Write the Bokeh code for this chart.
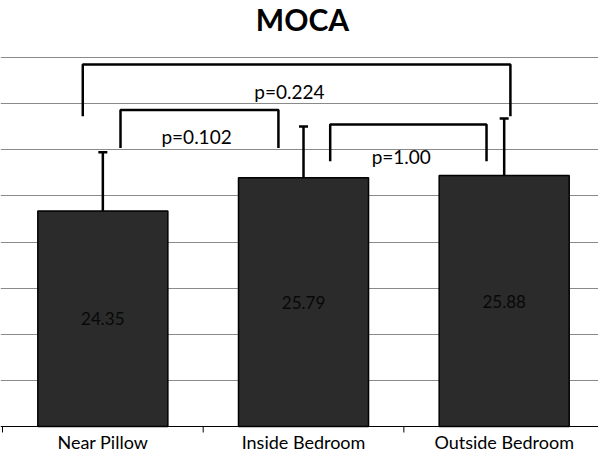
import math
from bokeh.plotting import figure
from bokeh.models import Range1d, FixedTicker, Whisker, TeeHead, ColumnDataSource, Span
from bokeh.embed import file_html
from bokeh.resources import INLINE
from bokeh.core.properties import value

# ---- data ----
title_text = "MOCA"
categories = ["Near Pillow", "Inside Bedroom", "Outside Bedroom"]
means = [24.35, 25.79, 25.88]
sds = [2.54, 2.22, 2.48]
value_labels = ["24.35", "25.79", "25.88"]
y_min, y_max, y_step = 15, 31, 2

# pairwise comparisons (brackets)
comp_labels = ["p=0.102", "p=1.00", "p=0.224"]
comp_x0 = [0.588, 1.633, 0.40]
comp_x1 = [1.375, 2.412, 2.531]
comp_top = [28.72, 28.10, 30.70]
comp_leg = [27.08, 26.50, 28.45]
comp_text_y = [27.59, 26.72, 29.54]
comp_text_x = [0.967, 1.987, 1.43]

FONT = "Lato"
n = len(categories)
xc = [i + 0.5 for i in range(n)]

# frame fills the whole figure; axis, title and labels are drawn inside it
p = figure(width=598, height=452, output_backend="svg", toolbar_location=None,
           x_range=Range1d(-0.01, 2.97), y_range=Range1d(13.873, 33.472),
           min_border=0)
p.outline_line_color = None
p.background_fill_color = "white"
p.title.visible = False
p.xaxis.visible = False
p.yaxis.visible = False

# grid
p.xgrid.visible = False
p.ygrid.ticker = FixedTicker(ticks=list(range(y_min + y_step, y_max + 1, y_step)))
p.ygrid.grid_line_color = "#8a8a8a"
p.ygrid.grid_line_width = 1

# baseline (category axis) with ticks at category boundaries
p.add_layout(Span(location=y_min, dimension="width", line_color="black", line_width=1))
p.ray(x=list(range(n + 1)), y=[y_min] * (n + 1), length=6, length_units="screen",
      angle=-math.pi / 2, line_color="black", line_width=1)

src = ColumnDataSource(dict(x=xc, top=means, upper=[m + s for m, s in zip(means, sds)],
                            lab=value_labels, laby=[(y_min + m) / 2 for m in means],
                            cat=categories, caty=[y_min - 0.68] * n))

p.vbar(x="x", top="top", bottom=y_min, width=0.648, source=src,
       fill_color="#2b2b2b", line_color="black", line_width=1.5)

w = Whisker(base="x", upper="upper", lower="top", source=src, level="overlay",
            line_color="black", line_width=2.5,
            upper_head=TeeHead(size=9, line_width=2.5, line_color="black"), lower_head=None)
p.add_layout(w)

p.text(x="x", y="laby", text="lab", source=src, text_align="center", text_baseline="middle",
       text_font=value(FONT), text_font_size="17px", text_color="#080808")

# category labels
p.text(x="x", y="caty", text="cat", source=src, text_align="center",
       text_baseline="alphabetic", text_font=value(FONT), text_font_size="18px",
       text_color="black")

# title
p.text(x=[1.495], y=[32.65], text=[title_text], text_align="center", text_baseline="middle",
       text_font=value(FONT), text_font_size="30px", text_font_style="bold",
       text_color="black")

# brackets
xs = [[a, a, b, b] for a, b in zip(comp_x0, comp_x1)]
ys = [[l, t, t, l] for l, t in zip(comp_leg, comp_top)]
p.multi_line(xs=xs, ys=ys, line_color="black", line_width=2.5)
p.text(x=comp_text_x, y=comp_text_y, text=comp_labels, text_align="center",
       text_baseline="middle", text_font=value(FONT), text_font_size="19px", text_color="black")

open("out.html", "w").write(file_html(p, INLINE))
